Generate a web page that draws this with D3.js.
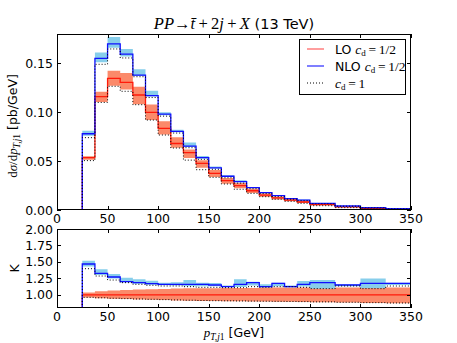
<!DOCTYPE html>
<html>
<head>
<meta charset="utf-8">
<script src="https://cdn.jsdelivr.net/npm/d3@7"></script>
<style>
  body { margin: 0; background: #fff; }
  text { font-family: "DejaVu Sans", sans-serif; }
  .math { font-family: "Liberation Serif", "DejaVu Serif", serif; }
</style>
</head>
<body>
<div id="chart"></div>
<script>
// bin edges of the pT,j1 histogram (GeV)
const binEdges = [25, 37.5, 50, 62.5, 75, 87.5, 100, 112.5, 125, 137.5, 150, 162.5, 175,
  187.5, 200, 212.5, 225, 237.5, 250, 275, 300, 325, 350];

// top panel: dsigma/dpT [pb/GeV]
const nloCentral = [0.078, 0.155, 0.170, 0.1595, 0.138, 0.117, 0.098, 0.0805, 0.0654, 0.0535, 0.0430,
  0.0345, 0.0290, 0.0228, 0.0177, 0.0146, 0.0116, 0.0102, 0.0068, 0.0041, 0.0024, 0.0013];
const nloHigh = [0.081, 0.161, 0.177, 0.1647, 0.144, 0.122, 0.100, 0.082, 0.069, 0.0552, 0.0445,
  0.0355, 0.0305, 0.0235, 0.0185, 0.0150, 0.0120, 0.0108, 0.0072, 0.0043, 0.0028, 0.0014];
const nloLow = [0.076, 0.151, 0.166, 0.157, 0.137, 0.116, 0.097, 0.0795, 0.0645, 0.0525, 0.0425,
  0.0338, 0.0283, 0.0224, 0.0173, 0.0143, 0.0114, 0.0099, 0.0064, 0.0040, 0.0021, 0.0012];
const nloCd1 = [0.074, 0.149, 0.1647, 0.1555, 0.1363, 0.115, 0.096, 0.0787, 0.0637, 0.0518, 0.0416,
  0.0330, 0.0275, 0.0218, 0.0168, 0.0138, 0.0111, 0.0096, 0.0063, 0.0039, 0.0021, 0.0011];

const loCentral = [0.0535, 0.116, 0.1347, 0.1306, 0.1176, 0.0999, 0.0835, 0.068, 0.0586, 0.0477, 0.0375,
  0.0300, 0.0249, 0.0197, 0.0153, 0.0123, 0.0102, 0.0082, 0.0055, 0.0031, 0.0017, 0.0009];
const loHigh = [0.055, 0.121, 0.1425, 0.140, 0.126, 0.108, 0.0907, 0.0745, 0.062, 0.051, 0.041,
  0.0328, 0.0275, 0.0218, 0.0170, 0.0136, 0.0113, 0.0091, 0.0061, 0.0034, 0.0019, 0.0010];
const loLow = [0.0515, 0.1105, 0.127, 0.1232, 0.1082, 0.092, 0.0772, 0.0637, 0.0533, 0.0432, 0.0338,
  0.0268, 0.0222, 0.0175, 0.0136, 0.0108, 0.0090, 0.0072, 0.0048, 0.0027, 0.0015, 0.0008];
const loCd1 = [0.0505, 0.110, 0.1265, 0.1214, 0.1077, 0.092, 0.0767, 0.0634, 0.051, 0.0412, 0.0334,
  0.0266, 0.0212, 0.0170, 0.0136, 0.0110, 0.0089, 0.0068, 0.0044, 0.0024, 0.0010, 0.0004];

// bottom panel: K factor
const kNlo = [1.468, 1.327, 1.271, 1.20, 1.185, 1.17, 1.16, 1.16, 1.16, 1.16, 1.149,
  1.124, 1.16, 1.185, 1.124, 1.175, 1.124, 1.16, 1.185, 1.149, 1.175, 1.175];
const kNloHigh = [1.519, 1.388, 1.316, 1.26, 1.236, 1.215, 1.185, 1.19, 1.225, 1.185, 1.18,
  1.14, 1.236, 1.20, 1.16, 1.185, 1.14, 1.21, 1.225, 1.16, 1.25, 1.185];
const kNloLow = [1.43, 1.30, 1.25, 1.19, 1.17, 1.155, 1.145, 1.14, 1.13, 1.13, 1.13,
  1.115, 1.12, 1.14, 1.115, 1.13, 1.115, 1.125, 1.094, 1.13, 1.10, 1.15];
const kNloCd1 = [1.397, 1.286, 1.225, 1.185, 1.16, 1.145, 1.134, 1.134, 1.124, 1.114, 1.114,
  1.109, 1.109, 1.124, 1.114, 1.124, 1.124, 1.114, 1.094, 1.134, 1.094, 1.134];
const kLo = [1, 1, 1, 1, 1, 1, 1, 1, 1, 1, 1, 1, 1, 1, 1, 1, 1, 1, 1, 1, 1, 1];
const kLoHigh = [1.035, 1.055, 1.065, 1.075, 1.08, 1.085, 1.09, 1.095, 1.10, 1.10, 1.10,
  1.105, 1.105, 1.105, 1.11, 1.11, 1.11, 1.11, 1.11, 1.11, 1.11, 1.11];
const kLoLow = [0.96, 0.95, 0.94, 0.935, 0.93, 0.925, 0.92, 0.915, 0.91, 0.908, 0.905,
  0.903, 0.901, 0.90, 0.898, 0.896, 0.894, 0.892, 0.888, 0.882, 0.876, 0.872];
const kLoCd1 = [0.962, 0.955, 0.948, 0.942, 0.937, 0.932, 0.927, 0.922, 0.918, 0.914, 0.911,
  0.909, 0.907, 0.905, 0.903, 0.901, 0.899, 0.897, 0.893, 0.887, 0.881, 0.876];

const xTicks = [0, 50, 100, 150, 200, 250, 300, 350];
const topTicks = [0, 0.05, 0.10, 0.15];
const kTicks = [1.00, 1.25, 1.50, 1.75, 2.00];

const W = 457, H = 343;
const left = 57, right = 411;
const topPanel = { y0: 34, y1: 210 };
const botPanel = { y0: 229, y1: 308 };

const blueBand = "#87ceeb", redBand = "#fb8a6a";
const blueLine = "#1010ff", redLine = "#ff1a0a";

const svg = d3.select("#chart").append("svg")
  .attr("width", W).attr("height", H);

const x = d3.scaleLinear().domain([0, 350]).range([left, right]);
const yTop = d3.scaleLinear().domain([0, 0.18]).range([topPanel.y1, topPanel.y0]);
const yK = d3.scaleLinear().domain([0.8, 2.0]).range([botPanel.y1, botPanel.y0]);

function clip(id, p) {
  svg.append("clipPath").attr("id", id).append("rect")
    .attr("x", left).attr("y", p.y0).attr("width", right - left).attr("height", p.y1 - p.y0);
}
clip("cTop", topPanel);
clip("cBot", botPanel);

function band(g, y, lo, hi, color) {
  const pts = binEdges.map((e, i) => ({ e, lo: lo[Math.min(i, lo.length - 1)], hi: hi[Math.min(i, hi.length - 1)] }));
  g.append("path")
    .attr("d", d3.area().curve(d3.curveStepAfter)
      .x(d => x(d.e)).y0(d => y(d.lo)).y1(d => y(d.hi))(pts))
    .attr("fill", color).attr("stroke", "none");
}

function step(g, y, vals, base, color, width, dash) {
  const pts = [[binEdges[0], base]];
  vals.forEach((v, i) => { pts.push([binEdges[i], v]); pts.push([binEdges[i + 1], v]); });
  pts.push([binEdges[binEdges.length - 1], base]);
  g.append("path")
    .attr("d", d3.line().x(d => x(d[0])).y(d => y(d[1]))(pts))
    .attr("fill", "none").attr("stroke", color).attr("stroke-width", width)
    .attr("stroke-dasharray", dash || null);
}

// top panel
const gT = svg.append("g").attr("clip-path", "url(#cTop)");
band(gT, yTop, loLow, loHigh, redBand);
band(gT, yTop, nloLow, nloHigh, blueBand);
step(gT, yTop, loCentral, 0, redLine, 1.3);
step(gT, yTop, loCd1, 0, "#000", 1, "1,2");
step(gT, yTop, nloCentral, 0, blueLine, 1.3);
step(gT, yTop, nloCd1, 0, "#000", 1, "1,2");

// bottom panel
const gB = svg.append("g").attr("clip-path", "url(#cBot)");
band(gB, yK, kLoLow, kLoHigh, redBand);
band(gB, yK, kNloLow, kNloHigh, blueBand);
step(gB, yK, kLo, 0.8, redLine, 1.3);
step(gB, yK, kLoCd1, 0.8, "#000", 1, "1,2");
step(gB, yK, kNlo, 0.8, blueLine, 1.3);
step(gB, yK, kNloCd1, 0.8, "#000", 1, "1,2");

// frames and ticks
function frame(p, y, yt, fmt) {
  const g = svg.append("g");
  g.append("rect").attr("x", left + 0.5).attr("y", p.y0 + 0.5)
    .attr("width", right - left - 1).attr("height", p.y1 - p.y0 - 1)
    .attr("fill", "none").attr("stroke", "#000").attr("stroke-width", 1);
  xTicks.forEach(t => {
    const xx = Math.round(x(t)) + 0.5;
    g.append("line").attr("x1", xx).attr("x2", xx).attr("y1", p.y1).attr("y2", p.y1 - 4).attr("stroke", "#000");
    g.append("line").attr("x1", xx).attr("x2", xx).attr("y1", p.y0).attr("y2", p.y0 + 4).attr("stroke", "#000");
    g.append("text").attr("x", x(t)).attr("y", p.y1 + 13).attr("text-anchor", "middle")
      .attr("font-size", 12.5).text(t);
  });
  yt.forEach(t => {
    const yy = Math.round(y(t)) + 0.5;
    g.append("line").attr("x1", left).attr("x2", left + 4).attr("y1", yy).attr("y2", yy).attr("stroke", "#000");
    g.append("line").attr("x1", right).attr("x2", right - 4).attr("y1", yy).attr("y2", yy).attr("stroke", "#000");
    g.append("text").attr("x", left - 4).attr("y", y(t) + 4.5).attr("text-anchor", "end")
      .attr("font-size", 12.5).text(fmt(t));
  });
}
frame(topPanel, yTop, topTicks, d3.format(".2f"));
frame(botPanel, yK, kTicks, d3.format(".2f"));

// title
const title = svg.append("text").attr("x", (left + right) / 2).attr("y", 29)
  .attr("text-anchor", "middle").attr("font-size", 16.5);
title.append("tspan").attr("class", "math").attr("font-style", "italic").text("PP");
title.append("tspan").attr("class", "math").text("\u2192");
title.append("tspan").attr("class", "math").attr("font-style", "italic").text("t\u0304");
title.append("tspan").attr("class", "math").text("\u2009+\u20092");
title.append("tspan").attr("class", "math").attr("font-style", "italic").text("j");
title.append("tspan").attr("class", "math").text("\u2009+\u2009");
title.append("tspan").attr("class", "math").attr("font-style", "italic").text("X");
title.append("tspan").attr("font-size", 14.5).text(" (13 TeV)");

// y label top
const yl = svg.append("text").attr("transform", "translate(17,126) rotate(-90)")
  .attr("text-anchor", "middle").attr("font-size", 13);
yl.append("tspan").attr("class", "math").text("d");
yl.append("tspan").attr("class", "math").attr("font-style", "italic").text("\u03c3");
yl.append("tspan").attr("class", "math").text("/d");
yl.append("tspan").attr("class", "math").attr("font-style", "italic").text("p");
yl.append("tspan").attr("class", "math").attr("font-style", "italic").attr("font-size", 9.5).attr("dy", 3).text("T,j");
yl.append("tspan").attr("class", "math").attr("font-size", 9.5).text("1");
yl.append("tspan").attr("dy", -3).attr("font-size", 12.5).text(" [pb/GeV]");

svg.append("text").attr("transform", `translate(19,${(botPanel.y0 + botPanel.y1) / 2}) rotate(-90)`)
  .attr("text-anchor", "middle").attr("font-size", 12.5).text("K");

// x label
const xl = svg.append("text").attr("x", (left + right) / 2).attr("y", 337)
  .attr("text-anchor", "middle").attr("font-size", 13);
xl.append("tspan").attr("class", "math").attr("font-style", "italic").text("p");
xl.append("tspan").attr("class", "math").attr("font-style", "italic").attr("font-size", 9.5).attr("dy", 2.5).text("T,j");
xl.append("tspan").attr("class", "math").attr("font-size", 9.5).text("1");
xl.append("tspan").attr("dy", -2.5).attr("font-size", 12.5).text(" [GeV]");

// legend
const lg = svg.append("g");
lg.append("rect").attr("x", 299.5).attr("y", 39.5).attr("width", 106).attr("height", 55)
  .attr("fill", "#fff").attr("stroke", "#000").attr("stroke-width", 1);
const legendRows = [
  { label: "LO ", val: "1/2", color: "#ff6a6a", dash: null },
  { label: "NLO ", val: "1/2", color: "#3a3aff", dash: null },
  { label: "", val: "1", color: "#000", dash: "1,2" }
];
legendRows.forEach((r, i) => {
  const yy = 49 + i * 17;
  lg.append("line").attr("x1", 307).attr("x2", 324).attr("y1", yy).attr("y2", yy)
    .attr("stroke", r.color).attr("stroke-width", r.dash ? 1 : 1.3).attr("stroke-dasharray", r.dash);
  const t = lg.append("text").attr("x", 335).attr("y", yy + 4.5).attr("font-size", 12.5);
  if (r.label) t.append("tspan").text(r.label);
  t.append("tspan").attr("class", "math").attr("font-style", "italic").attr("font-size", 13.5).text("c");
  t.append("tspan").attr("class", "math").attr("font-size", 9).attr("dy", 2).text("d");
  t.append("tspan").attr("class", "math").attr("font-size", 13.5).attr("dy", -2).text("\u2009=\u2009" + r.val);
});
</script>
</body>
</html>
